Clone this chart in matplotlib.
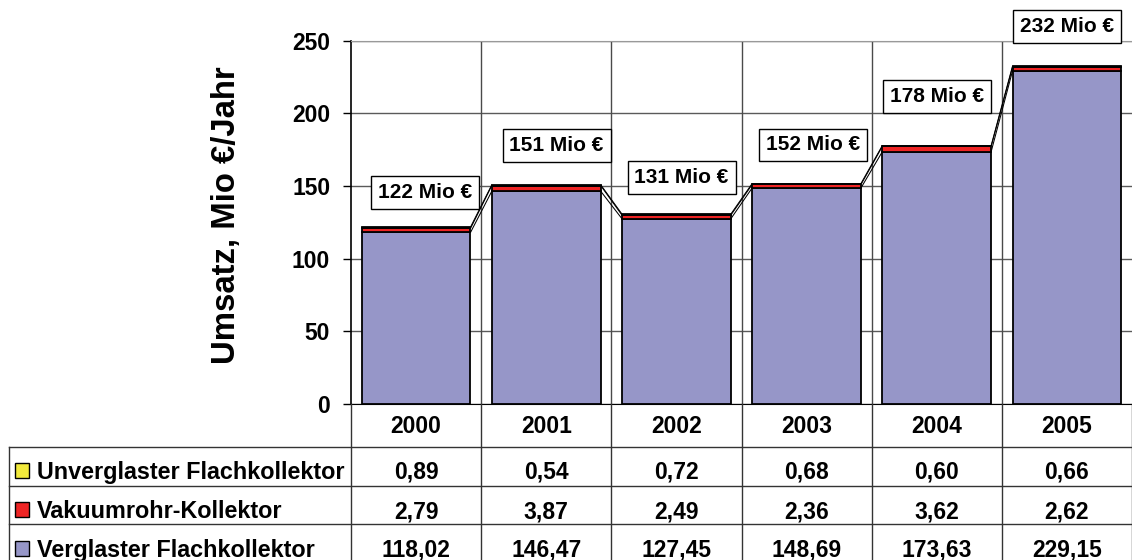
import matplotlib
matplotlib.use("Agg")
import matplotlib.pyplot as plt
from matplotlib.lines import Line2D
from matplotlib.patches import Rectangle
from matplotlib.transforms import blended_transform_factory
import numpy as np

plt.rcParams["font.family"] = ["Liberation Sans", "DejaVu Sans"]
plt.rcParams["font.weight"] = "bold"

# ---- data -------------------------------------------------------------
years = ["2000", "2001", "2002", "2003", "2004", "2005"]
verglaster = [118.02, 146.47, 127.45, 148.69, 173.63, 229.15]
vakuumrohr = [2.79, 3.87, 2.49, 2.36, 3.62, 2.62]
unverglaster = [0.89, 0.54, 0.72, 0.68, 0.60, 0.66]
series_names = ["Verglaster Flachkollektor", "Vakuumrohr-Kollektor",
                "Unverglaster Flachkollektor"]
y_ticks = [0, 50, 100, 150, 200, 250]

# ---- style / layout ---------------------------------------------------
colors = ["#9696C8", "#EE2424", "#F2EA3C"]
label_lift = [23.8, 26.8, 25.2, 26.5, 34.0, 27.2]   # box height above total
label_shift = [0.07, 0.08, 0.04, 0.05, 0.0, 0.0]    # box shift from bar centre

W, H = 1132, 560
fig = plt.figure(figsize=(W / 100, H / 100), dpi=100)
ax_left, ax_bottom_px, ax_top_px = 351, 404, 40.7
ax = fig.add_axes([ax_left / W, 1 - ax_bottom_px / H,
                   1 - ax_left / W, (ax_bottom_px - ax_top_px) / H])


def fy(px):
    return 1 - px / H


x = np.arange(len(years))
bar_w = 0.836
series = [verglaster, vakuumrohr, unverglaster]
bottom = np.zeros(len(years))
levels = []
for vals, col in zip(series, colors):
    vals = np.asarray(vals)
    ax.bar(x, vals, bar_w, bottom=bottom, color=col, edgecolor="black",
           linewidth=1.3, zorder=3)
    bottom = bottom + vals
    levels.append(bottom.copy())

# series lines joining the top of each stack level
for lvl in levels:
    for i in range(len(years) - 1):
        ax.plot([x[i] + bar_w / 2, x[i + 1] - bar_w / 2], [lvl[i], lvl[i + 1]],
                color="black", lw=0.75, zorder=2.5, solid_capstyle="butt")

totals = levels[-1]
for i, t in enumerate(totals):
    ax.text(x[i] + label_shift[i], t + label_lift[i], f"{t:.0f} Mio €",
            ha="center", va="center", fontsize=15, fontweight="bold",
            zorder=6, clip_on=False,
            bbox=dict(boxstyle="square,pad=0.33", facecolor="white",
                      edgecolor="black", linewidth=1))

ax.set_xlim(-0.5, len(years) - 0.5)
ax.set_ylim(0, 250)
ax.set_yticks(y_ticks)
ax.set_yticklabels([str(v) for v in y_ticks], fontsize=16.5, fontweight="bold")
ax.set_xticks([])
ax.tick_params(axis="y", direction="out", length=6, width=1, pad=9)
ax.yaxis.grid(True, color="#5a5a5a", lw=1, zorder=1)
for b in np.arange(0.5, len(years) - 0.5, 1):
    ax.axvline(b, color="#4a4a4a", lw=1, zorder=1)
ax.set_axisbelow(True)
ax.spines["right"].set_visible(False)
ax.spines["top"].set_color("#999999")
ax.spines["left"].set_color("black")
ax.spines["left"].set_linewidth(1.2)
ax.spines["bottom"].set_color("black")

fig.text(226 / W, fy(215.5), "Umsatz, Mio €/Jahr", rotation=90,
         ha="center", va="center", fontsize=23.7, fontweight="bold")

# ---- data table ---------------------------------------------------------
trans = blended_transform_factory(ax.transData, fig.transFigure)
line_col = "#333333"
for b in np.arange(-0.5, len(years) + 0.5, 1):
    fig.add_artist(Line2D([b, b], [fy(404), 0], transform=trans,
                          color=line_col, lw=1))
for ypx in (447, 486, 524):
    fig.add_artist(Line2D([9 / W, 1], [fy(ypx), fy(ypx)],
                          transform=fig.transFigure, color=line_col, lw=1))
fig.add_artist(Line2D([9 / W, 9 / W], [fy(447), 0],
                      transform=fig.transFigure, color=line_col, lw=1))

for i, yr in enumerate(years):
    fig.text(x[i], fy(433), yr, transform=trans, ha="center",
             va="baseline", fontsize=16.5, fontweight="bold")

rows = [(series_names[2], unverglaster, colors[2], 479),
        (series_names[1], vakuumrohr, colors[1], 518),
        (series_names[0], verglaster, colors[0], 556.5)]
for name, vals, col, base in rows:
    fig.add_artist(Rectangle((15 / W, fy(base - 1)), 14 / W, 15 / H,
                             transform=fig.transFigure, facecolor=col,
                             edgecolor="black", lw=1))
    fig.text(37 / W, fy(base), name, ha="left", va="baseline",
             fontsize=16.8, fontweight="bold")
    for i, v in enumerate(vals):
        fig.text(x[i], fy(base), f"{v:.2f}".replace(".", ","),
                 transform=trans, ha="center", va="baseline",
                 fontsize=16.5, fontweight="bold")

fig.savefig("out.png", dpi=100)
